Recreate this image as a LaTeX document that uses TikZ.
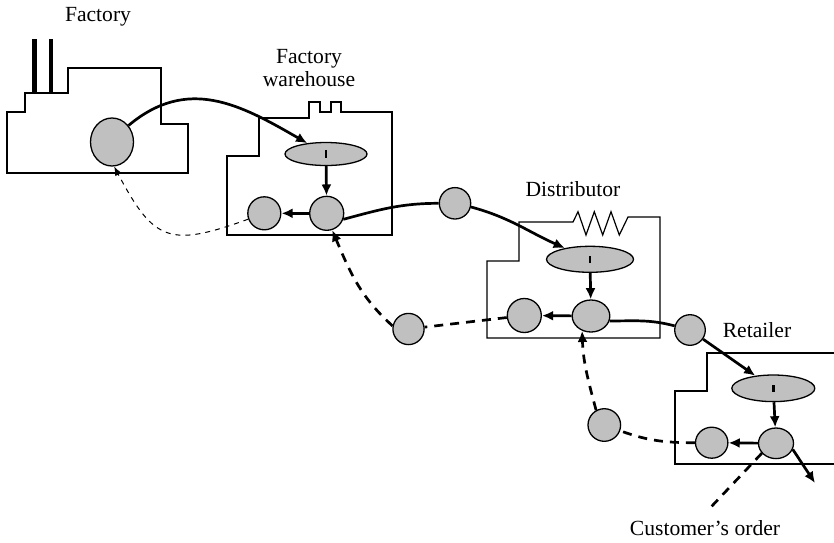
\documentclass[tikz,border=0pt]{standalone}
\usepackage{fontspec}
\setmainfont{Liberation Serif}
\usetikzlibrary{arrows.meta,shapes.geometric}
\definecolor{stockgray}{RGB}{192,192,192}
\begin{document}
\begin{tikzpicture}[x=0.5pt,y=-0.5pt,
    font=\fontsize{10.8}{11.5}\selectfont,
    wall/.style={line width=0.6pt},
    pool/.style={ellipse, draw, line width=0.65pt, fill=stockgray, inner sep=0pt,
                 minimum width=#1, minimum height=#1},
    pool/.default=16pt,
    gate/.style={ellipse, draw, line width=0.65pt, fill=stockgray, inner sep=0pt,
                 minimum width=42pt, minimum height=12.5pt},
    flow/.style={line width=1.35pt, -{Latex[length=5.6pt,width=5pt]}},
    link/.style={line width=1.35pt},
    order/.style={line width=1.35pt, dash pattern=on 4.5pt off 3.5pt},
    back/.style={line width=0.5pt, dash pattern=on 2.5pt off 2.5pt,
                 -{Latex[length=4.5pt,width=3.6pt]}}]
    \useasboundingbox (0,0) rectangle (834,542);
    % buildings
    \draw[wall] (7,112) -| (25,93) -| (68,68) -| (161,124) -| (188,173) -| (7,112) -- cycle;
    \draw[line width=2.3pt] (34.5,39) -- (34.5,93);
    \draw[line width=2.3pt] (51,39) -- (51,93);
    \draw[wall] (227,235) -- (227,156) -- (259,156) -- (259,118) -- (309,118) -- (309,102)
        -- (320,102) -- (320,112) -- (331,112) -- (331,102) -- (341,102) -- (341,112)
        -- (392,112) -- (392,235) -- cycle;
    \draw[wall] (487,338) -- (487,261) -- (519,261) -- (519,222) -- (573,222)
        -- (578,211.7) -- (586,235) -- (594.3,211.7) -- (602.7,235) -- (611,211.7)
        -- (619.3,235) -- (628,217) -- (660,217) -- (660,338) -- cycle;
    \draw[wall] (834,464) -- (675,464) -- (675,391) -- (707,391) -- (707,353) -- (834,353);
    % labels
    \node at (98,17) {Factory};
    \node[align=center] at (309,68) {Factory\\warehouse};
    \node at (573,189) {Distributor};
    \node at (757,330) {Retailer};
    \node (cust) at (705,528) {Customer’s order};
    % stocks and orders
    \node[pool, minimum width=21.5pt, minimum height=24pt] (fac) at (112,142) {};
    \node[gate, minimum width=41pt, minimum height=11.5pt] (whI) at (326,154) {\rule{1.3pt}{3.8pt}};
    \node[pool=17pt] (whS) at (326.7,213.3) {};
    \node[pool=16.5pt] (whO) at (264.3,213.3) {};
    \node[pool=15.7pt] (tr1) at (455,203.3) {};
    \node[gate, minimum width=43.5pt, minimum height=13pt] (diI) at (590,259.3) {\rule{1.3pt}{3.8pt}};
    \node[pool, minimum width=18.8pt, minimum height=16pt] (diS) at (591,316) {};
    \node[pool=17pt] (diO) at (524.3,315.5) {};
    \node[pool=15.6pt] (diR) at (408.5,329) {};
    \node[pool=15.3pt] (tr2) at (690,330) {};
    \node[gate, minimum width=41.5pt, minimum height=13.3pt] (reI) at (773.3,388.3) {\rule{1.3pt}{3.8pt}};
    \node[pool, minimum width=17.5pt, minimum height=15.3pt] (reS) at (776,443.3) {};
    \node[pool, minimum width=16.2pt, minimum height=15.5pt] (reO) at (711.7,442.7) {};
    \node[pool=16.3pt] (reR) at (604.3,425) {};
    \coordinate (sink) at (815,483);
    % goods
    \draw[flow] (fac.45) to[out=40,in=150,looseness=1.1] (whI);
    \draw[flow] (whI) -- (whS);
    \draw[flow] (whS) -- (whO);
    \draw[link] (whS.-20) to[out=15,in=180] (tr1);
    \draw[flow] (tr1.-13) to[out=-15,in=156] (diI);
    \draw[flow] (diI) -- (diS);
    \draw[flow] (diS) -- (diO);
    \draw[link] (diS.-15) to[out=0,in=165] (tr2);
    \draw[flow] (tr2) -- (reI);
    \draw[flow] (reI) -- (reS);
    \draw[flow] (reS) -- (reO);
    \draw[flow] (reS.-20) -- (sink);
    % orders
    \draw[back] (whO.200) to[out=200,in=-62,looseness=1.5] (fac.-85);
    \draw[order] (diO) -- (diR);
    \draw[order,-{Latex[length=5.6pt,width=5pt]}] (diR.169) to[out=138,in=-67] (whS.-72);
    \draw[order] (reO) to[out=180,in=-20] (reR);
    \draw[order,-{Latex[length=5.6pt,width=5pt]}] (reR.119) to[out=105,in=-88] (diS.-121);
    \draw[order, shorten >=4pt] (reS.215) -- (cust.north);
\end{tikzpicture}
\end{document}
